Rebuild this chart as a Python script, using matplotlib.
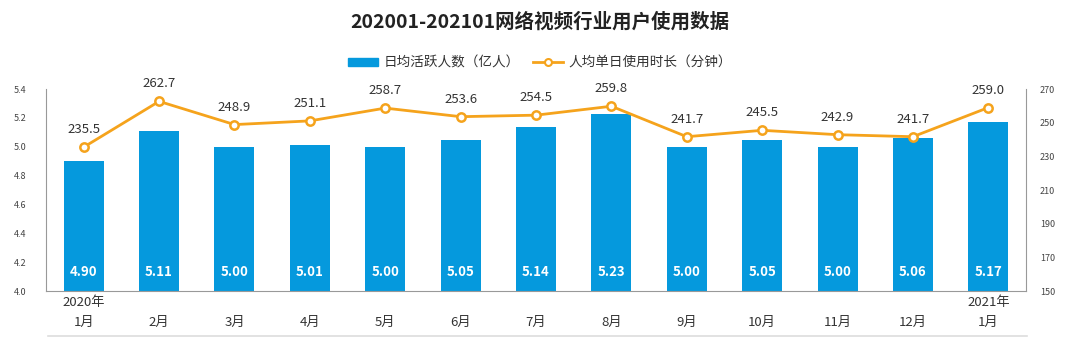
import matplotlib.pyplot as plt
from matplotlib.lines import Line2D

plt.rcParams['font.family'] = ['Noto Sans CJK SC', 'DejaVu Sans']

# Data
years = ["2020年", "", "", "", "", "", "", "", "", "", "", "", "2021年"]
months = ["1月", "2月", "3月", "4月", "5月", "6月", "7月", "8月",
          "9月", "10月", "11月", "12月", "1月"]
dau = [4.90, 5.11, 5.00, 5.01, 5.00, 5.05, 5.14, 5.23, 5.00, 5.05, 5.00, 5.06, 5.17]
minutes = [235.5, 262.7, 248.9, 251.1, 258.7, 253.6, 254.5, 259.8,
           241.7, 245.5, 242.9, 241.7, 259.0]

BLUE = "#0599DD"
ORANGE = "#F5A31C"
GRAY = "#999999"

fig = plt.figure(figsize=(10.8, 3.4), dpi=100)
ax = fig.add_axes([0.0426, 0.144, 0.9074, 0.594])
ax2 = ax.twinx()

x = list(range(len(months)))
ax.bar(x, dau, width=0.53, color=BLUE, zorder=2)
for xi, v in zip(x, dau):
    ax.text(xi, 4.13, f"{v:.2f}", ha="center", va="center", color="white",
            fontsize=9.5, fontweight="bold", zorder=3)

ax.set_ylim(4.0, 5.4)
ax.set_yticks([4.0, 4.2, 4.4, 4.6, 4.8, 5.0, 5.2, 5.4])
ax.set_xlim(-0.5, len(months) - 0.5)
ax.set_xticks(x)
ax.set_xticklabels(months, fontsize=9.5, color="#333333")

# year on its own line above the month
for xi, y in zip(x, years):
    if y:
        ax.annotate(y, xy=(xi, 0), xycoords=("data", "axes fraction"),
                    xytext=(0, -8.5), textcoords="offset points",
                    ha="center", va="center", fontsize=9.5, color="#333333")

ax2.plot(x, minutes, color=ORANGE, linewidth=2, marker="o", markersize=6,
         markerfacecolor="white", markeredgecolor=ORANGE, markeredgewidth=1.8, zorder=4)
for xi, v in zip(x, minutes):
    ax2.text(xi, v + 6.5, f"{v:.1f}", ha="center", va="bottom", color="#333333", fontsize=9.5)
ax2.set_ylim(150, 270)
ax2.set_yticks([150, 170, 190, 210, 230, 250, 270])

for a in (ax, ax2):
    for s in a.spines.values():
        s.set_visible(False)
    a.tick_params(length=0, labelsize=6.5, labelcolor="#444444")
ax.tick_params(axis="x", labelsize=9.5, labelcolor="#333333", pad=18)
ax.tick_params(axis="y", pad=14)
ax2.tick_params(axis="y", pad=10)
ax.spines["left"].set_visible(True)
ax.spines["left"].set_color(GRAY)
ax.spines["bottom"].set_visible(True)
ax.spines["bottom"].set_color(GRAY)
ax2.spines["right"].set_visible(True)
ax2.spines["right"].set_color(GRAY)

fig.text(0.5, 0.935, "202001-202101网络视频行业用户使用数据", ha="center", va="center",
         fontsize=14, fontweight="bold", color="#222222")

handles = [
    plt.Rectangle((0, 0), 1, 1, color=BLUE),
    Line2D([0], [0], color=ORANGE, linewidth=2, marker="o", markersize=5,
           markerfacecolor="white", markeredgecolor=ORANGE, markeredgewidth=1.5),
]
fig.legend(handles, ["日均活跃人数（亿人）", "人均单日使用时长（分钟）"], loc="center",
           bbox_to_anchor=(0.5, 0.815), ncol=2, frameon=False, fontsize=9.8,
           handlelength=2.2, handleheight=0.6, columnspacing=1.0, handletextpad=0.4,
           labelcolor="#333333")

fig.add_artist(Line2D([0.044, 0.951], [0.012, 0.012], color="#DDDDDD", linewidth=1.2))

fig.savefig("out.png", dpi=100)
